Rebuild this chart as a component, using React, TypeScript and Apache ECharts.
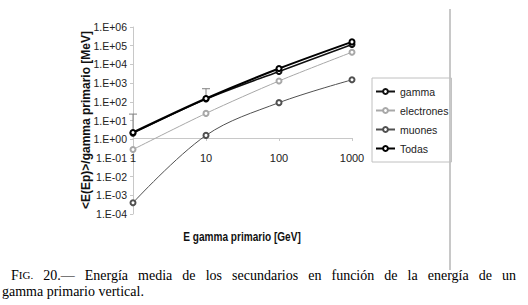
import React, { useEffect, useRef } from "react";
import * as echarts from "echarts";

const energies = [1, 10, 100, 1000];
const gamma = [2.1, 140, 4200, 115000];
const electrones = [0.28, 24, 1300, 45000];
const muones = [0.0004, 1.6, 90, 1500];
const todas = [2.3, 150, 6000, 160000];
const todasErrTop = [22, 500];
const seriesNames = ["gamma", "electrones", "muones", "Todas"];
const seriesColors = ["#111111", "#a8a8a8", "#505050", "#000000"];
const yTitle = "<E(Ep)>/gamma primario [MeV]";
const xTitle = "E gamma primario [GeV]";
const captionLine1Words = ["20.—", "Energía", "media", "de", "los", "secundarios", "en", "función", "de", "la", "energía", "de", "un"];
const captionLine2 = "gamma primario vertical.";

const SANS = "'Liberation Sans', Arial, sans-serif";
const SERIF_FAM = "'Liberation Serif', 'Times New Roman', serif";
const CAP_FS = 14;
const SC_FS = 11;

function fmtExp(v: number) {
  const e = Math.round(Math.log10(v));
  return "1.E" + (e < 0 ? "-" : "+") + String(Math.abs(e)).padStart(2, "0");
}

function measure(text: string, font: string): number {
  const c = document.createElement("canvas").getContext("2d");
  if (!c) return text.length * 6;
  c.font = font;
  return c.measureText(text).width;
}

export default function App() {
  const ref = useRef<HTMLDivElement>(null);
  useEffect(() => {
    if (!ref.current) return;
    const chart = echarts.init(ref.current, undefined, { renderer: "svg" });
    const mk = (arr: number[]) => energies.map((x, i) => [x, arr[i]]);
    const errData = todasErrTop.map((hi, i) => [energies[i], todas[i], hi]);
    const lineSeries = (name: string, arr: number[], width: number, symW: number, smooth: number) => {
      const c = seriesColors[seriesNames.indexOf(name)];
      return {
        name,
        type: "line",
        data: mk(arr),
        smooth,
        symbol: "emptyCircle",
        symbolSize: 5,
        showAllSymbol: true,
        color: c,
        lineStyle: { width, color: c },
        itemStyle: { color: c, borderWidth: symW },
      };
    };

    // justified caption, line 1
    const capFont = `${CAP_FS}px ${SERIF_FAM}`;
    const scFont = `${SC_FS}px ${SERIF_FAM}`;
    const line1Left = 11;
    const line1Right = 516;
    const figW = measure("F", capFont) + measure("IG.", scFont);
    const wordWs = captionLine1Words.map((w) => measure(w, capFont));
    const totalW = figW + wordWs.reduce((a, b) => a + b, 0);
    const gap = (line1Right - line1Left - totalW) / captionLine1Words.length;
    const line1Y = 275;
    const line2Y = 291;
    const captionEls: any[] = [
      {
        type: "text",
        x: line1Left,
        y: line1Y,
        style: {
          text: "{a|F}{b|IG.}",
          verticalAlign: "middle",
          align: "left",
          rich: {
            a: { font: capFont, fill: "#000" },
            b: { font: scFont, fill: "#000" },
          },
        },
      },
    ];
    let cx = line1Left + figW + gap;
    captionLine1Words.forEach((w, i) => {
      captionEls.push({
        type: "text",
        x: cx,
        y: line1Y,
        style: { text: w, font: capFont, fill: "#000", align: "left", verticalAlign: "middle" },
      });
      cx += wordWs[i] + gap;
    });
    captionEls.push({
      type: "text",
      x: 2,
      y: line2Y,
      style: { text: captionLine2, font: capFont, fill: "#000", align: "left", verticalAlign: "middle" },
    });

    const option: any = {
      animation: false,
      backgroundColor: "#fff",
      grid: { left: 133, top: 27, width: 219, height: 187, containLabel: false },
      xAxis: {
        type: "log",
        logBase: 10,
        min: 1,
        max: 1000,
        offset: -76,
        axisLine: { show: true, lineStyle: { color: "#c8c8c8", width: 1 } },
        axisTick: { show: true, length: 3, lineStyle: { color: "#c8c8c8" } },
        minorTick: { show: false },
        splitLine: { show: false },
        axisLabel: {
          margin: 14,
          fontSize: 11,
          fontFamily: SANS,
          color: "#222",
          formatter: (v: number) => String(Math.round(v)),
        },
      },
      yAxis: {
        type: "log",
        logBase: 10,
        min: 0.0001,
        max: 1000000,
        interval: 1,
        axisLine: { show: true, lineStyle: { color: "#c8c8c8", width: 1 } },
        axisTick: { show: true, length: 3, lineStyle: { color: "#c8c8c8" } },
        minorTick: { show: false },
        splitLine: { show: false },
        axisLabel: {
          margin: 6,
          fontSize: 10.5,
          fontFamily: SANS,
          color: "#222",
          formatter: (v: number) => fmtExp(v),
        },
      },
      legend: {
        orient: "vertical",
        left: 372,
        top: 78,
        data: seriesNames,
        padding: [7, 3, 7, 3],
        itemWidth: 19,
        itemHeight: 6,
        itemGap: 6,
        borderColor: "#c0c0c0",
        borderWidth: 1,
        textStyle: { fontSize: 10.5, fontFamily: SANS, color: "#222", lineHeight: 13 },
      },
      series: [
        lineSeries("electrones", electrones, 1, 1, 0.3),
        lineSeries("muones", muones, 1, 1, 0.35),
        {
          name: "errores",
          type: "custom",
          clip: false,
          data: errData,
          encode: { x: 0, y: [1, 2] },
          renderItem: (params: any, api: any) => {
            const x = api.value(0);
            const p0 = api.coord([x, api.value(1)]);
            const p1 = api.coord([x, api.value(2)]);
            const st = { stroke: "#808080", lineWidth: 1 };
            return {
              type: "group",
              children: [
                { type: "line", shape: { x1: p0[0], y1: p0[1], x2: p1[0], y2: p1[1] }, style: st },
                { type: "line", shape: { x1: p1[0] - 4, y1: p1[1], x2: p1[0] + 4, y2: p1[1] }, style: st },
              ],
            };
          },
        },
        lineSeries("gamma", gamma, 1.5, 1.2, 0.3),
        lineSeries("Todas", todas, 2, 1.6, 0.3),
      ],
      graphic: [
        {
          type: "text",
          x: 86,
          y: 120,
          rotation: Math.PI / 2,
          style: {
            text: yTitle,
            font: "bold 12px 'Liberation Sans', Arial, sans-serif",
            fill: "#111",
            align: "center",
            verticalAlign: "middle",
          },
        },
        {
          type: "text",
          x: 242,
          y: 237,
          scaleX: 0.84,
          style: {
            text: xTitle,
            font: "bold 12px 'Liberation Sans', Arial, sans-serif",
            fill: "#111",
            align: "center",
            verticalAlign: "middle",
          },
        },
        {
          type: "rect",
          shape: { x: 449, y: 9, width: 2, height: 261 },
          style: { fill: "#c8c8c8" },
        },
        ...captionEls,
      ],
    };
    chart.setOption(option);
    return () => chart.dispose();
  }, []);
  return <div ref={ref} style={{ width: 528, height: 305, position: "absolute", left: 0, top: 0 }} />;
}
